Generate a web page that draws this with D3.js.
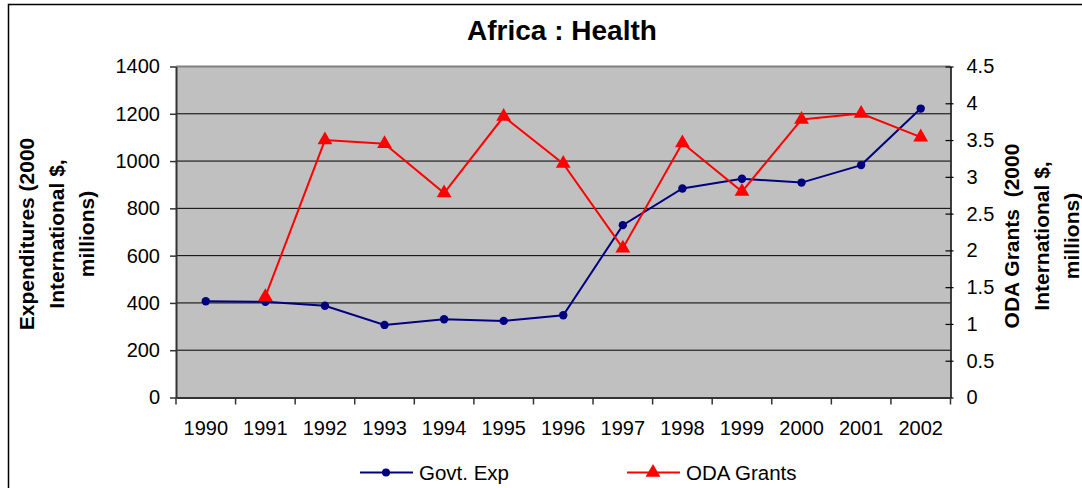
<!DOCTYPE html>
<html>
<head>
<meta charset="utf-8">
<script src="https://cdn.jsdelivr.net/npm/d3@7"></script>
<style>
  body { margin: 0; background: #fff; }
  svg { display: block; font-family: "Liberation Sans", Arial, sans-serif; }
</style>
</head>
<body>
<svg id="chart"></svg>
<script>
// data
const years = ["1990", "1991", "1992", "1993", "1994", "1995", "1996", "1997", "1998", "1999", "2000", "2001", "2002"];
const govtExp = [407, 405, 388, 307, 331, 324, 348, 729, 884, 925, 909, 983, 1222];
const odaGrants = [null, 1.37, 3.50, 3.45, 2.78, 3.82, 3.18, 2.03, 3.46, 2.80, 3.78, 3.86, 3.54];
const leftTicks = [0, 200, 400, 600, 800, 1000, 1200, 1400];
const rightTicks = [0, 0.5, 1, 1.5, 2, 2.5, 3, 3.5, 4, 4.5];

const width = 1082;
const height = 488;

const svg = d3.select("#chart")
    .attr("width", width)
    .attr("height", height);

// outer chart border (only top and left show in the frame)
svg.append("rect")
    .attr("x", 8.5).attr("y", 4.5)
    .attr("width", 1100).attr("height", 500)
    .attr("fill", "#fff")
    .attr("stroke", "#000")
    .attr("stroke-width", 1.5);

const plot = { left: 176, right: 950.5, top: 66.5, bottom: 397.5 };

const x = d3.scaleBand().domain(years).range([plot.left, plot.right]).padding(0);
const yL = d3.scaleLinear().domain([0, 1400]).range([plot.bottom, plot.top]);
const yR = d3.scaleLinear().domain([0, 4.5]).range([plot.bottom, plot.top]);

// plot background
svg.append("rect")
    .attr("x", plot.left).attr("y", plot.top)
    .attr("width", plot.right - plot.left)
    .attr("height", plot.bottom - plot.top)
    .attr("fill", "#c0c0c0");

// gridlines from left axis
svg.append("g")
    .selectAll("line")
    .data(leftTicks.filter(d => d > 0 && d < 1400))
    .join("line")
    .attr("x1", plot.left).attr("x2", plot.right)
    .attr("y1", d => yL(d)).attr("y2", d => yL(d))
    .attr("stroke", "#000")
    .attr("stroke-width", 1);

// top border of plot
svg.append("line")
    .attr("x1", plot.left).attr("x2", plot.right)
    .attr("y1", plot.top).attr("y2", plot.top)
    .attr("stroke", "#808080").attr("stroke-width", 2);

// left axis
const leftAxis = svg.append("g")
    .attr("transform", `translate(${plot.left},0)`)
    .call(d3.axisLeft(yL).tickValues(leftTicks).tickFormat(d => String(d))
        .tickSize(6).tickPadding(10).tickSizeOuter(0));
leftAxis.select(".domain").attr("stroke", "#333").attr("stroke-width", 2);
leftAxis.selectAll(".tick line").attr("stroke", "#333").attr("stroke-width", 1.5);
leftAxis.selectAll("text")
    .attr("font-size", 20)
    .attr("font-family", "Liberation Sans, Arial, sans-serif")
    .attr("fill", "#000");

// right axis
const rightAxis = svg.append("g")
    .attr("transform", `translate(${plot.right},0)`)
    .call(d3.axisRight(yR).tickValues(rightTicks).tickFormat(d => String(d))
        .tickSize(3).tickPadding(13).tickSizeOuter(0));
rightAxis.select(".domain").attr("stroke", "#000").attr("stroke-width", 1.5);
rightAxis.selectAll(".tick line").attr("x1", -5).attr("stroke", "#000").attr("stroke-width", 1.2);
rightAxis.selectAll("text")
    .attr("font-size", 20)
    .attr("font-family", "Liberation Sans, Arial, sans-serif")
    .attr("fill", "#000");

// bottom axis, ticks between categories
const bottomAxis = svg.append("g")
    .attr("transform", `translate(0,${plot.bottom})`)
    .call(d3.axisBottom(x).tickSize(0).tickPadding(23).tickSizeOuter(0));
bottomAxis.select(".domain").attr("stroke", "#333").attr("stroke-width", 2);
bottomAxis.selectAll("text")
    .attr("font-size", 20)
    .attr("font-family", "Liberation Sans, Arial, sans-serif")
    .attr("fill", "#000");
svg.append("g")
    .selectAll("line")
    .data(years.concat(["end"]))
    .join("line")
    .attr("x1", (d, i) => plot.left + i * x.bandwidth())
    .attr("x2", (d, i) => plot.left + i * x.bandwidth())
    .attr("y1", plot.bottom).attr("y2", plot.bottom + 7)
    .attr("stroke", "#333").attr("stroke-width", 1.5);

// series
const cx = d => x(d) + x.bandwidth() / 2;

const govtPts = years.map((y, i) => ({ year: y, v: govtExp[i] }));
const odaPts = years.map((y, i) => ({ year: y, v: odaGrants[i] })).filter(d => d.v != null);

svg.append("path")
    .datum(govtPts)
    .attr("fill", "none")
    .attr("stroke", "#000080")
    .attr("stroke-width", 2)
    .attr("d", d3.line().x(d => cx(d.year)).y(d => yL(d.v)));

svg.append("g")
    .selectAll("circle")
    .data(govtPts)
    .join("circle")
    .attr("cx", d => cx(d.year))
    .attr("cy", d => yL(d.v))
    .attr("r", 4.2)
    .attr("fill", "#000080");

svg.append("path")
    .datum(odaPts)
    .attr("fill", "none")
    .attr("stroke", "#ff0000")
    .attr("stroke-width", 2)
    .attr("d", d3.line().x(d => cx(d.year)).y(d => yR(d.v)));

const tri = d3.symbol().type(d3.symbolTriangle).size(95);
svg.append("g")
    .selectAll("path")
    .data(odaPts)
    .join("path")
    .attr("transform", d => `translate(${cx(d.year)},${yR(d.v)})`)
    .attr("d", tri)
    .attr("fill", "#ff0000");

// title
svg.append("text")
    .attr("x", 562).attr("y", 40)
    .attr("text-anchor", "middle")
    .attr("font-size", 28)
    .attr("font-weight", "bold")
    .text("Africa : Health");

// axis titles
const leftTitle = ["Expenditures (2000", "International $,", "millions)"];
svg.append("g")
    .attr("transform", "translate(0,234) rotate(-90)")
    .selectAll("text")
    .data(leftTitle)
    .join("text")
    .attr("x", 0)
    .attr("y", (d, i) => 34 + i * 30)
    .attr("text-anchor", "middle")
    .attr("font-size", 21)
    .attr("font-weight", "bold")
    .text(d => d);

const rightTitle = ["ODA Grants\u00a0 (2000", "International $,", "millions)"];
svg.append("g")
    .attr("transform", "translate(0,236) rotate(-90)")
    .selectAll("text")
    .data(rightTitle)
    .join("text")
    .attr("x", 0)
    .attr("y", (d, i) => 1019 + i * 30)
    .attr("text-anchor", "middle")
    .attr("font-size", 21)
    .attr("font-weight", "bold")
    .text(d => d);

// legend
const legend = [
    { name: "Govt. Exp", color: "#000080", x0: 360, kind: "circle" },
    { name: "ODA Grants", color: "#ff0000", x0: 627, kind: "triangle" }
];
const lg = svg.append("g").selectAll("g").data(legend).join("g")
    .attr("transform", d => `translate(${d.x0},472.5)`);
lg.append("line")
    .attr("x1", 0).attr("x2", 53)
    .attr("stroke", d => d.color).attr("stroke-width", 2);
lg.filter(d => d.kind === "circle").append("circle")
    .attr("cx", 26).attr("r", 4).attr("fill", d => d.color);
lg.filter(d => d.kind === "triangle").append("path")
    .attr("transform", "translate(26,0)")
    .attr("d", tri).attr("fill", d => d.color);
lg.append("text")
    .attr("x", 59).attr("y", 7)
    .attr("font-size", 20.5)
    .text(d => d.name);
</script>
</body>
</html>
